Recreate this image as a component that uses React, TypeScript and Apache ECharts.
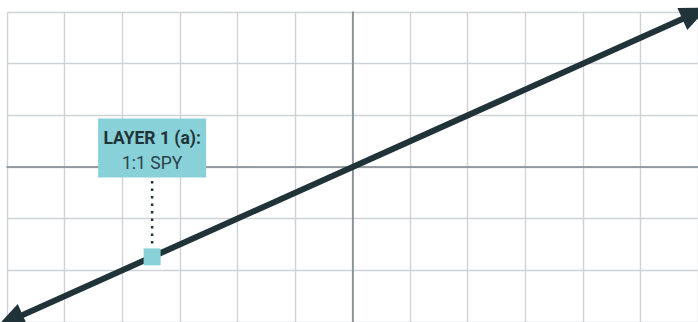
import React, { useEffect, useRef } from "react";
import * as echarts from "echarts";

const xTicks = [-6, 6];
const yTicks = [-3, 3];
const lineStart = [-5.95, -2.975];
const lineEnd = [5.95, 2.975];
const pointValue = [-3.48, -1.74];
const leaderLine = [[-3.48, -0.27], [-3.48, -1.55]];
const labelTitle = "LAYER 1 (a):";
const labelSub = "1:1 SPY";

export default function App() {
  const ref = useRef<HTMLDivElement>(null);
  useEffect(() => {
    if (!ref.current) return;
    const chart = echarts.init(ref.current, undefined, { renderer: "svg" });
    const dark = "#1f3339";
    chart.setOption({
      animation: false,
      backgroundColor: "#ffffff",
      grid: { left: 7, top: 12, width: 696, height: 312, containLabel: false },
      xAxis: {
        type: "value",
        min: xTicks[0],
        max: xTicks[1],
        interval: 1,
        axisLine: { show: true, onZero: true, lineStyle: { color: "#7d878c", width: 1.6 } },
        axisTick: { show: false },
        axisLabel: { show: false },
        splitLine: { show: true, lineStyle: { color: "#cfd3d5", width: 1.4 } },
      },
      yAxis: {
        type: "value",
        min: yTicks[0],
        max: yTicks[1],
        interval: 1,
        axisLine: { show: true, onZero: true, lineStyle: { color: "#7d878c", width: 1.6 } },
        axisTick: { show: false },
        axisLabel: { show: false },
        splitLine: { show: true, lineStyle: { color: "#cfd3d5", width: 1.4 } },
      },
      series: [
        {
          type: "line",
          data: leaderLine,
          symbol: "none",
          z: 3,
          lineStyle: { color: dark, width: 2.5, type: [2.5, 5], cap: "butt" },
        },
        {
          type: "scatter",
          data: [],
          z: 4,
          markLine: {
            silent: true,
            symbol: ["triangle", "triangle"],
            symbolSize: [24, 28],
            label: { show: false },
            lineStyle: { color: dark, width: 6, type: "solid" },
            itemStyle: { color: dark },
            data: [[{ coord: lineStart }, { coord: lineEnd }]],
          },
        },
        {
          type: "scatter",
          z: 5,
          data: [pointValue],
          symbol: "rect",
          symbolSize: 17,
          itemStyle: { color: "#88d1d8", opacity: 1 },
          label: {
            show: true,
            position: "top",
            distance: 71,
            formatter: `{b|${labelTitle}}\n{r|${labelSub}}`,
            backgroundColor: "#88d1d8",
            padding: [7, 6, 2, 6],
            width: 96,
            align: "center",
            rich: {
              b: {
                fontFamily: "Roboto",
                fontWeight: "bold",
                fontSize: 17.5,
                lineHeight: 25,
                color: "#1f3339",
                align: "center",
              },
              r: {
                fontFamily: "Roboto",
                fontSize: 17.5,
                lineHeight: 25,
                color: "#2c4248",
                align: "center",
              },
            },
          },
        },
      ],
    });
    return () => chart.dispose();
  }, []);
  return (
    <div
      ref={ref}
      style={{ position: "fixed", left: 0, top: 0, width: 698, height: 322 }}
    />
  );
}
